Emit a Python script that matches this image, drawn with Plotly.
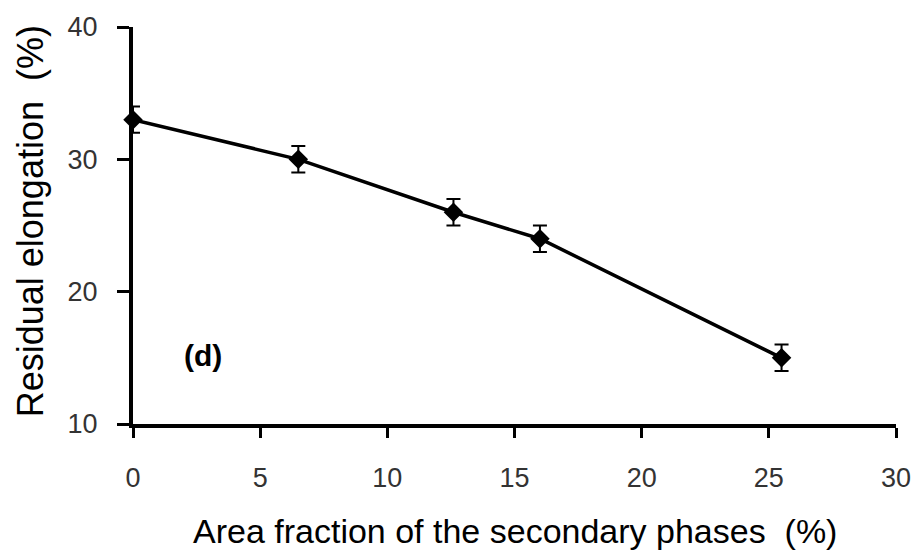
import plotly.graph_objects as go

area_fraction = [0.0, 6.5, 12.6, 16.0, 25.5]
elongation = [33.0, 30.0, 26.0, 24.0, 15.0]
err = [1.0, 1.0, 1.0, 1.0, 1.0]
x_ticks = [0, 5, 10, 15, 20, 25, 30]
y_ticks = [10, 20, 30, 40]

FONT = "Liberation Sans Narrow, Arial Narrow, Liberation Sans, Arial, sans-serif"

fig = go.Figure()
fig.add_trace(go.Scatter(
    x=area_fraction, y=elongation, mode="lines+markers",
    line=dict(color="black", width=3.5),
    marker=dict(symbol="diamond", size=15, color="black"),
    error_y=dict(type="data", array=err, visible=True, color="black",
                 thickness=2, width=7),
    showlegend=False, cliponaxis=False,
))

fig.update_layout(
    width=923, height=560,
    margin=dict(l=133, r=21, t=22, b=136),
    plot_bgcolor="white", paper_bgcolor="white",
    font=dict(family=FONT, color="#222"),
    xaxis=dict(range=[0, 30], tickvals=x_ticks, showline=True, linecolor="black",
               linewidth=4, ticks="outside", ticklen=10, tickwidth=3, tickcolor="black",
               showgrid=False, zeroline=False, tickfont=dict(size=27, color="#333"),
               ticklabelstandoff=17),
    yaxis=dict(range=[10, 40], tickvals=y_ticks, showline=True, linecolor="black",
               linewidth=4, ticks="outside", ticklen=12, tickwidth=3, tickcolor="black",
               showgrid=False, zeroline=False, tickfont=dict(size=27, color="#333"),
               ticklabelstandoff=14),
    annotations=[
        dict(text="Area fraction of the secondary phases  (%)", xref="paper", yref="paper",
             x=0.5, y=-0.27, xanchor="center", yanchor="middle", showarrow=False,
             font=dict(size=34, color="black", family=FONT)),
        dict(text="Residual elongation  (%)", xref="paper", yref="paper",
             x=-0.134, y=0.51, xanchor="center", yanchor="middle", showarrow=False,
             textangle=-90, font=dict(size=36, color="black", family=FONT)),
        dict(text="<b>(d)</b>", xref="x", yref="y", x=2.75, y=15.2,
             showarrow=False, font=dict(size=30, color="black", family=FONT)),
    ],
)

fig.write_html("out.html")
